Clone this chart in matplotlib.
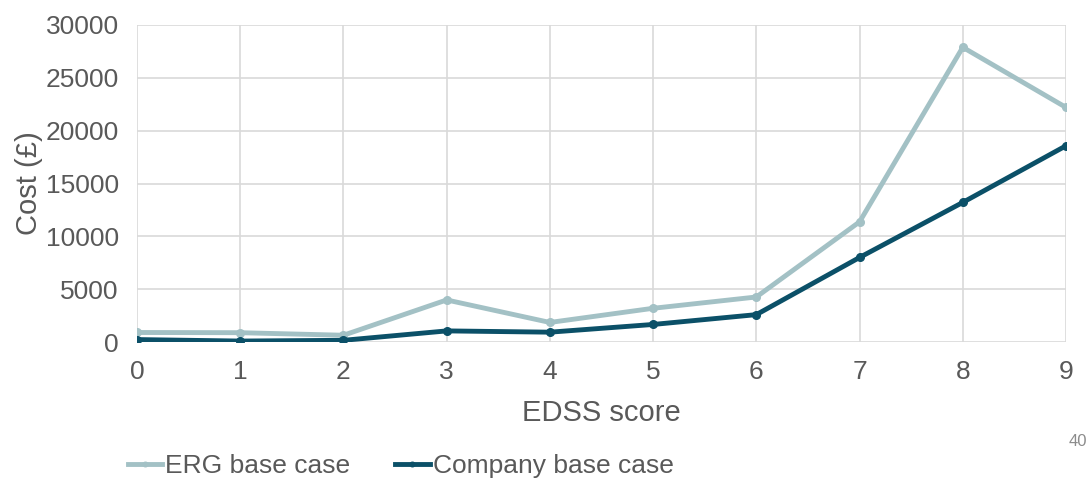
import matplotlib.pyplot as plt

plt.rcParams['font.family'] = ['Liberation Sans', 'DejaVu Sans']

edss = [0, 1, 2, 3, 4, 5, 6, 7, 8, 9]
erg_cost = [900, 880, 640, 3980, 1850, 3190, 4260, 11370, 27890, 22200]
company_cost = [230, 90, 160, 1050, 930, 1660, 2590, 8000, 13210, 18570]

erg_col = '#A3C1C5'
comp_col = '#0B5068'
txt = '#595959'

fig = plt.figure(figsize=(10.92, 4.78), dpi=100)
ax = fig.add_axes([137 / 1092, 1 - 342 / 478, (1066 - 137) / 1092, (342 - 25) / 478])

ax.plot(edss, erg_cost, color=erg_col, lw=3.5, marker='o', ms=5.5, label='ERG base case')
ax.plot(edss, company_cost, color=comp_col, lw=3.5, marker='o', ms=5.5, label='Company base case')

ax.set_xlim(0, 9)
ax.set_ylim(0, 30000)
ax.set_xticks(range(10))
ax.set_yticks(range(0, 30001, 5000))
ax.grid(True, color='#D9D9D9', lw=1.2)
ax.set_axisbelow(True)
for s in ax.spines.values():
    s.set_visible(False)
ax.tick_params(length=0, labelsize=19, labelcolor=txt)
ax.tick_params(axis='y', pad=13)
ax.tick_params(axis='x', pad=13)
ax.set_xlabel('EDSS score', fontsize=21, color=txt, labelpad=11)
ax.set_ylabel('Cost (£)', fontsize=21, color=txt, labelpad=2)

fig.legend(loc='center left', bbox_to_anchor=(104 / 1092, 1 - 466 / 478), ncol=2, frameon=False,
           fontsize=19, handlelength=1.3, handletextpad=0.12, columnspacing=1.7,
           labelcolor=txt, markerscale=0.6)

fig.text(1078 / 1092, 1 - 442 / 478, '40', fontsize=12, color='#8C8C8C', ha='center', va='center')

fig.savefig('out.png', dpi=100)
